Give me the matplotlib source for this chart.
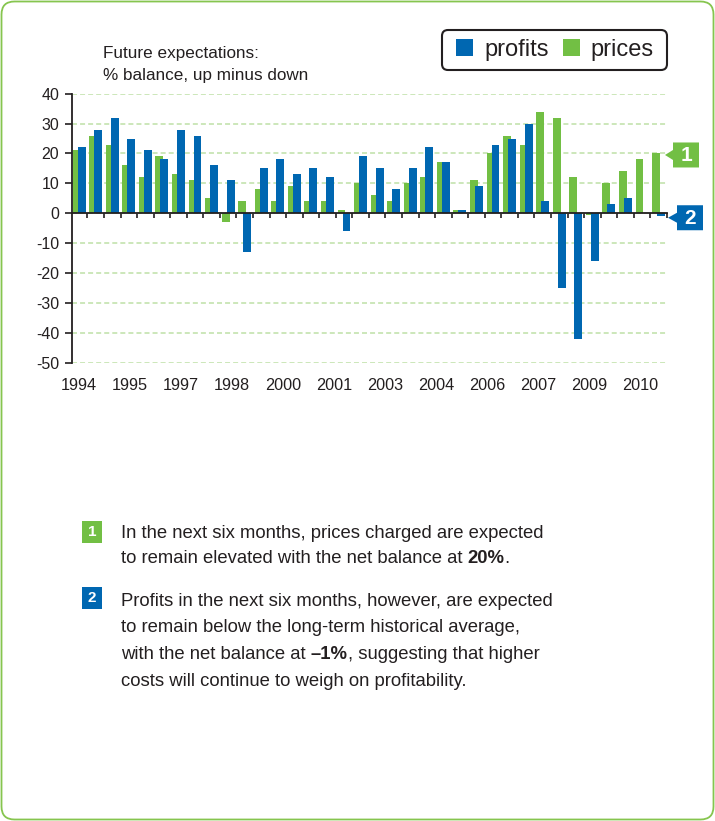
import numpy as np
import matplotlib
matplotlib.use('Agg')
import matplotlib.pyplot as plt
from matplotlib.patches import FancyBboxPatch, Polygon, Rectangle
from matplotlib.transforms import Affine2D

# ---------------- data ----------------
series_names = ['profits', 'prices']
prices = [21, 26, 23, 16, 12, 19, 13, 11, 5, -3, 4, 8, 4, 9, 4, 4, 1, 10,
          6, 4, 10, 12, 17, 1, 11, 20, 26, 23, 34, 32, 12, -0.7, 10, 14, 18, 20]
profits = [22, 28, 32, 25, 21, 18, 28, 26, 16, 11, -13, 15, 18, 13, 15, 12, -6, 19,
           15, 8, 15, 22, 17, 1, 9, 23, 25, 30, 4, -25, -42, -16, 3, 5, 0, -1]
year_labels = ['1994', '1995', '1997', '1998', '2000', '2001',
               '2003', '2004', '2006', '2007', '2009', '2010']
y_ticks = [40, 30, 20, 10, 0, -10, -20, -30, -40, -50]
title_lines = ['Future expectations:', '% balance, up minus down']

# ---------------- style ----------------
W, H = 715, 821
plt.rcParams['font.family'] = ['Liberation Sans', 'DejaVu Sans']
plt.rcParams['axes.unicode_minus'] = False
plt.rcParams['lines.scale_dashes'] = False
DARK = '#231f20'
BLUE = '#0067b1'
GREEN = '#72bf44'
GRID = '#c4e3ae'
BORDER = '#86c54f'

fig = plt.figure(figsize=(W / 100, H / 100), dpi=100)
# transform: image pixel coords (origin top-left)
pxT = Affine2D().scale(1, -1).translate(0, H).scale(1 / 100) + fig.dpi_scale_trans


def fx(x):
    return x / W


def fy(y):
    return 1 - y / H


# outer rounded border
fig.add_artist(FancyBboxPatch((1.5, 1.5), W - 3, H - 3,
                              boxstyle='round,pad=0,rounding_size=13',
                              transform=pxT, fill=False, ec=BORDER, lw=1.3))

# ---------------- chart ----------------
ax = fig.add_axes([fx(72), fy(362.7), fx(667) - fx(72), fy(93.7) - fy(362.7)])
n = len(prices)
idx = np.arange(n)
off, bw = 0.15, 0.48
b_prices = ax.bar(idx - off, prices, width=bw, color=GREEN, zorder=2, label=series_names[1])
b_profits = ax.bar(idx + off, profits, width=bw, color=BLUE, zorder=3, label=series_names[0])
ax.set_xlim(-0.43, n - 0.49)
ax.set_ylim(-50, 40)

for s in ['top', 'right']:
    ax.spines[s].set_visible(False)
ax.spines['bottom'].set_position(('data', 0))
ax.spines['bottom'].set_color(DARK)
ax.spines['bottom'].set_linewidth(1.3)
ax.spines['bottom'].set_zorder(4)
ax.spines['left'].set_color(DARK)
ax.spines['left'].set_linewidth(1.3)

ax.set_xticks(idx + 0.5)
ax.set_xticklabels([])
ax.tick_params(axis='x', direction='out', length=3.8, width=1.2, color=DARK)
ax.set_yticks(y_ticks)
ax.tick_params(axis='y', direction='out', length=5, width=1.2, color=DARK,
               pad=4.3, labelsize=11.5, labelcolor=DARK)
ax.grid(axis='y', color=GRID, linewidth=1.2, linestyle=(0, (3.6, 2.2)))
ax.set_axisbelow('line')

sec = ax.secondary_xaxis('bottom')
sec.set_xticks(np.linspace(0, 33.9, len(year_labels)), labels=year_labels)
sec.tick_params(length=0, pad=11, labelsize=11.7, labelcolor=DARK)
sec.spines['bottom'].set_visible(False)

# title
fig.text(103, 58, title_lines[0], transform=pxT, fontsize=12.3, color=DARK, va='baseline')
fig.text(103, 80, title_lines[1], transform=pxT, fontsize=12.3, color=DARK, va='baseline')

# legend (frame drawn separately to control padding)
fig.add_artist(FancyBboxPatch((442, 30), 225, 40,
                              boxstyle='round,pad=0,rounding_size=6',
                              transform=pxT, fc='white', ec=DARK, lw=1.5, zorder=5))
leg = fig.legend(handles=[b_profits, b_prices], labels=series_names,
                 loc='center', bbox_to_anchor=(fx(555), fy(50)), ncol=2,
                 fontsize=17, frameon=False,
                 handlelength=0.72, handleheight=0.72, handletextpad=0.47,
                 columnspacing=0.6, borderpad=0, borderaxespad=0,
                 labelcolor=DARK)
leg.set_zorder(6)


# callouts on the right of the chart
def callout(value, color, label, left, right, tip_x):
    yv = H - ax.transData.transform((0, value))[1] + 1.5
    top, bot = yv - 12.5, yv + 12.5
    pts = [(tip_x, yv), (left, yv - 5), (left, top), (right, top),
           (right, bot), (left, bot), (left, yv + 5)]
    fig.add_artist(Polygon(pts, closed=True, transform=pxT, fc=color, ec='none'))
    fig.text((left + right) / 2, yv + 0.5, label, transform=pxT, ha='center', va='center',
             color='white', fontsize=15, weight='bold')


callout(prices[-1], GREEN, '1', 673, 699, 665)
callout(profits[-1], BLUE, '2', 677, 703, 668)


# ---------------- bottom notes ----------------
def badge(y_top, color, label):
    fig.add_artist(Rectangle((82, y_top), 20, 22, transform=pxT, fc=color, ec='none'))
    fig.text(92, y_top + 11.5, label, transform=pxT, ha='center', va='center',
             color='white', fontsize=11, weight='bold')


def rich_line(x, y, parts, size=13.3):
    prev = None
    for s, w in parts:
        if prev is None:
            prev = ax.annotate(s, xy=(x, y), xycoords=pxT, va='baseline', ha='left',
                               fontsize=size, weight=w, color=DARK, annotation_clip=False)
        else:
            prev = ax.annotate(s, xy=(1, 0), xycoords=prev, va='bottom', ha='left',
                               fontsize=size, weight=w, color=DARK, annotation_clip=False)


badge(521, GREEN, '1')
badge(587, BLUE, '2')
rich_line(121, 537.5, [('In the next six months, prices charged are expected', 'normal')])
rich_line(121, 563, [('to remain elevated with the net balance at ', 'normal'),
                     ('20%', 'bold'), ('.', 'normal')])
rich_line(121, 606, [('Profits in the next six months, however, are expected', 'normal')])
rich_line(121, 632.5, [('to remain below the long-term historical average,', 'normal')])
rich_line(121, 659, [('with the net balance at ', 'normal'), ('\u20131%', 'bold'),
                     (', suggesting that higher', 'normal')])
rich_line(121, 685.5, [('costs will continue to weigh on profitability.', 'normal')])

fig.savefig('out.png', dpi=100)
